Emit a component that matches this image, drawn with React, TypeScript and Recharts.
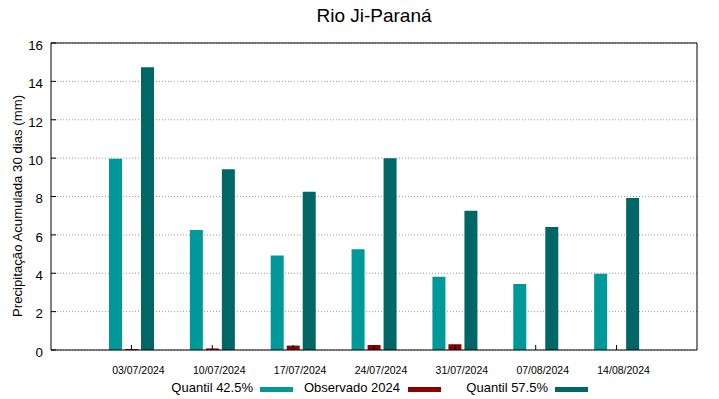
import React from "react";
import { BarChart, Bar, XAxis, YAxis, CartesianGrid } from "recharts";

const dates = ["03/07/2024", "10/07/2024", "17/07/2024", "24/07/2024", "31/07/2024", "07/08/2024", "14/08/2024"];
const quantil425 = [9.97, 6.25, 4.93, 5.25, 3.82, 3.44, 3.98];
const observado2024 = [0.05, 0.08, 0.23, 0.26, 0.3, 0, 0];
const quantil575 = [14.73, 9.42, 8.25, 10.0, 7.26, 6.41, 7.92];
const yTicks = [0, 2, 4, 6, 8, 10, 12, 14, 16];

const title = "Rio Ji-Paraná";
const yLabel = "Precipitação Acumulada 30 dias (mm)";
const seriesNames = ["Quantil 42.5%", "Observado 2024", "Quantil 57.5%"];
const colors = ["#009999", "#8b0000", "#006666"];

const data = dates.map((d, i) => ({
  date: d,
  q425: quantil425[i],
  obs: observado2024[i],
  q575: quantil575[i],
}));

const FONT = "'Liberation Sans', Arial, sans-serif";

const XTick = (props: any) => {
  const { x, y, payload } = props;
  return (
    <text x={x + 7} y={y} dy="0.71em" textAnchor="middle" fontSize={10.5} fill="#000" fontFamily={FONT}>
      {payload.value}
    </text>
  );
};

const YTick = (props: any) => {
  const { x, y, payload } = props;
  return (
    <text x={x} y={y + 2} dy="0.36em" textAnchor="end" fontSize={13.3} fill="#000" fontFamily={FONT}>
      {payload.value}
    </text>
  );
};

const legendItems = [
  { textRight: 253, swatchX: 260 },
  { textRight: 400, swatchX: 408 },
  { textRight: 548, swatchX: 555 },
];

export default function App() {
  return (
    <div style={{ position: "absolute", left: 0, top: 0, width: 719, height: 399, background: "#fff" }}>
      <BarChart
        width={719}
        height={399}
        data={data}
        margin={{ top: 0, right: 0, bottom: 0, left: 0 }}
        barGap={3}
        style={{ fontFamily: FONT }}
      >
        <CartesianGrid horizontal={true} vertical={false} stroke="#999" strokeDasharray="1 2" />
        <XAxis
          dataKey="date"
          height={49}
          padding={{ left: 40, right: 40 }}
          axisLine={{ stroke: "#000" }}
          tickLine={{ stroke: "#000" }}
          tickSize={-5}
          tickMargin={22}
          tick={<XTick />}
          interval={0}
        />
        <XAxis
          xAxisId="top"
          dataKey="date"
          orientation="top"
          height={43}
          padding={{ left: 40, right: 40 }}
          axisLine={{ stroke: "#000" }}
          tickLine={{ stroke: "#000" }}
          tickSize={-5}
          tick={false}
          interval={0}
        />
        <YAxis
          type="number"
          domain={[0, 16]}
          ticks={yTicks}
          width={51}
          axisLine={{ stroke: "#000" }}
          tickLine={{ stroke: "#000" }}
          tickSize={-5}
          tickMargin={13}
          tick={<YTick />}
          interval={0}
          label={{
            content: () => (
              <text
                x={17}
                y={206}
                transform="rotate(-90, 17, 206)"
                textAnchor="middle"
                dominantBaseline="central"
                fontSize={13.2}
                fontFamily={FONT}
                fill="#000"
              >
                {yLabel}
              </text>
            ),
          }}
        />
        <YAxis
          yAxisId="right"
          orientation="right"
          type="number"
          domain={[0, 16]}
          ticks={yTicks}
          width={22}
          axisLine={{ stroke: "#000" }}
          tickLine={{ stroke: "#000" }}
          tickSize={-5}
          tick={false}
          interval={0}
        />
        <Bar dataKey="q425" name={seriesNames[0]} fill={colors[0]} barSize={13} isAnimationActive={false} />
        <Bar dataKey="obs" name={seriesNames[1]} fill={colors[1]} barSize={13} isAnimationActive={false} />
        <Bar dataKey="q575" name={seriesNames[2]} fill={colors[2]} barSize={13} isAnimationActive={false} />
      </BarChart>
      <svg width={719} height={399} style={{ position: "absolute", left: 0, top: 0, pointerEvents: "none" }}>
        <text x={374} y={22} textAnchor="middle" fontSize={19} fontFamily={FONT} fill="#000">
          {title}
        </text>
        {legendItems.map((it, i) => (
          <g key={i}>
            <text x={it.textRight} y={392} textAnchor="end" fontSize={13} fontFamily={FONT} fill="#000">
              {seriesNames[i]}
            </text>
            <rect x={it.swatchX} y={387} width={33} height={5} fill={colors[i]} />
          </g>
        ))}
      </svg>
    </div>
  );
}
